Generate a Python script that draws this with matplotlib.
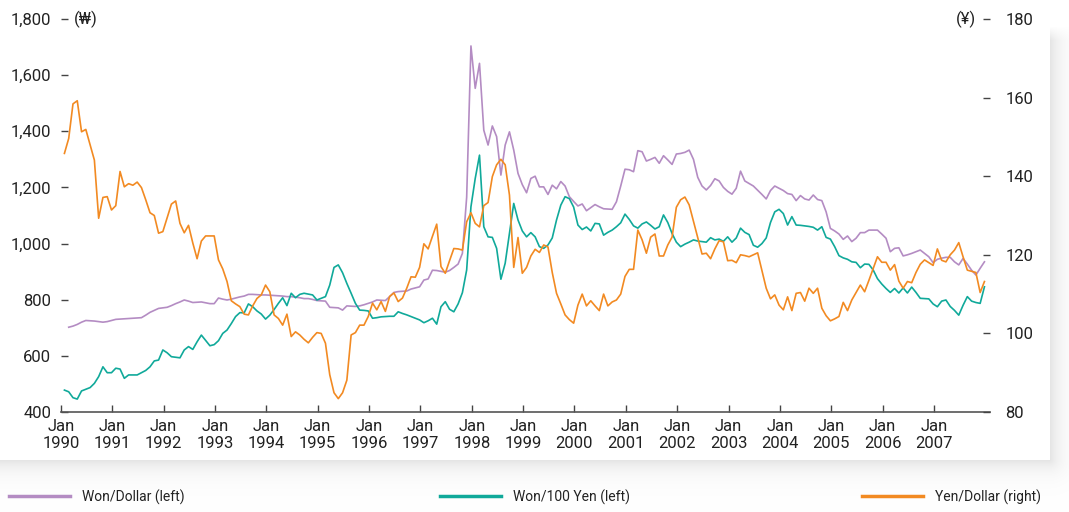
import numpy as np
import matplotlib
matplotlib.use("Agg")
import matplotlib.pyplot as plt

plt.rcParams['font.family'] = ['Roboto', 'DejaVu Sans']

# monthly data, Jan 1990 - Dec 2007
won_dollar = [
    np.nan, 702, 706, 712, 720, 726, 725, 724, 722, 720, 722, 726,      # 1990
    730, 731, 732, 733, 734, 735, 736, 745, 755, 762, 769, 771,         # 1991
    773, 779, 786, 792, 799, 795, 790, 791, 792, 789, 786, 786,         # 1992
    806, 802, 799, 802, 806, 810, 813, 819, 819, 818, 817, 817,         # 1993
    816, 815, 814, 813, 811, 811, 809, 807, 804, 804, 801, 797,         # 1994
    796, 795, 773, 772, 771, 763, 778, 777, 776, 778, 782, 787,         # 1995
    792, 799, 798, 797, 811, 826, 829, 830, 831, 838, 842, 846,         # 1996
    870, 874, 905, 904, 901, 898, 904, 915, 927, 965, 1165, 1704,       # 1997
    1553, 1642, 1404, 1351, 1419, 1381, 1244, 1351, 1398, 1333, 1250, 1210,  # 1998
    1181, 1232, 1240, 1202, 1202, 1175, 1208, 1195, 1221, 1205, 1167, 1150,  # 1999
    1134, 1141, 1117, 1128, 1139, 1131, 1124, 1123, 1122, 1149, 1205, 1265,  # 2000
    1263, 1256, 1331, 1327, 1294, 1300, 1307, 1286, 1313, 1298, 1282, 1319,  # 2001
    1321, 1325, 1333, 1300, 1236, 1205, 1191, 1207, 1231, 1223, 1200, 1186,  # 2002
    1176, 1197, 1258, 1223, 1214, 1205, 1190, 1175, 1159, 1189, 1205, 1197,  # 2003
    1189, 1178, 1175, 1153, 1171, 1159, 1155, 1173, 1157, 1153, 1113, 1054,  # 2004
    1045, 1034, 1015, 1027, 1007, 1019, 1039, 1039, 1048, 1048, 1048, 1034,  # 2005
    1019, 971, 983, 985, 956, 960, 965, 971, 977, 965, 953, 932,        # 2006
    944, 948, 951, 951, 935, 924, 947, 927, 905, 888, 912, 935,         # 2007
]

won_100yen = [
    478, 472, 451, 446, 475, 481, 487, 502, 526, 561, 540, 540,         # 1990
    556, 553, 520, 532, 532, 532, 540, 548, 561, 582, 585, 621,         # 1991
    611, 597, 595, 593, 621, 633, 623, 650, 674, 655, 636, 640,         # 1992
    654, 680, 692, 715, 740, 754, 753, 785, 775, 760, 749, 731,         # 1993
    745, 765, 787, 807, 779, 823, 807, 819, 823, 820, 817, 799,         # 1994
    805, 811, 852, 915, 924, 896, 858, 823, 787, 763, 762, 760,         # 1995
    734, 736, 739, 740, 741, 741, 757, 751, 746, 740, 734, 728,         # 1996
    718, 725, 734, 713, 775, 793, 766, 757, 785, 825, 906, 1131,        # 1997
    1232, 1315, 1060, 1024, 1022, 983, 873, 930, 1036, 1143, 1084, 1045,  # 1998
    1024, 1039, 1024, 989, 983, 995, 1020, 1084, 1137, 1167, 1160, 1130,  # 1999
    1066, 1050, 1059, 1045, 1072, 1070, 1030, 1040, 1048, 1060, 1074, 1105,  # 2000
    1086, 1063, 1055, 1070, 1077, 1065, 1052, 1060, 1102, 1075, 1036, 1005,  # 2001
    989, 998, 1005, 1013, 1009, 1007, 1005, 1021, 1013, 1016, 1008, 1024,    # 2002
    1005, 1020, 1055, 1040, 1032, 994, 987, 1000, 1020, 1075, 1113, 1122,    # 2003
    1107, 1066, 1096, 1066, 1065, 1063, 1061, 1058, 1048, 1060, 1022, 1016,  # 2004
    989, 957, 949, 944, 935, 933, 914, 927, 926, 906, 875, 856,         # 2005
    840, 826, 840, 824, 842, 824, 845, 826, 805, 804, 803, 785,         # 2006
    775, 795, 799, 776, 762, 745, 780, 811, 795, 790, 787, 846,         # 2007
]

yen_dollar = [
    145.8, 149.6, 158.4, 159.2, 151.3, 151.9, 148.0, 144.1, 129.3, 134.6, 134.8, 131.4,  # 1990
    132.5, 141.2, 137.3, 138.1, 137.7, 138.5, 137.1, 134.0, 130.7, 130.0, 125.5, 125.9,  # 1991
    129.4, 132.9, 133.7, 128.0, 125.6, 127.5, 123.0, 119.0, 123.5, 124.8, 124.8, 124.8,  # 1992
    118.7, 116.4, 113.2, 108.3, 107.5, 106.8, 104.9, 104.7, 107.0, 108.9, 109.8, 112.3,  # 1993
    110.6, 104.7, 103.8, 102.1, 104.9, 99.2, 100.4, 99.6, 98.5, 97.6, 99.0, 100.2,       # 1994
    100.0, 97.5, 89.5, 84.9, 83.4, 84.9, 88.1, 99.6, 100.2, 102.1, 102.1, 104.3,         # 1995
    107.7, 106.0, 108.1, 105.6, 109.4, 110.3, 108.1, 109.0, 111.5, 114.4, 114.3, 116.8,  # 1996
    122.8, 121.5, 124.7, 127.8, 117.0, 115.3, 118.5, 121.6, 121.5, 121.2, 128.4, 130.7,  # 1997
    128.0, 127.1, 132.5, 133.3, 139.9, 142.9, 144.3, 142.9, 135.2, 116.8, 124.4, 115.3,  # 1998
    116.8, 119.7, 121.4, 120.6, 122.5, 122.0, 115.5, 110.2, 107.5, 104.7, 103.5, 102.6,  # 1999
    107.2, 110.0, 107.0, 108.3, 107.0, 105.8, 110.0, 107.0, 108.0, 108.5, 110.0, 114.5,  # 2000
    116.3, 116.3, 126.3, 123.8, 120.4, 124.5, 125.3, 119.7, 119.7, 122.5, 124.5, 132.1,  # 2001
    134.0, 134.7, 132.7, 128.5, 124.3, 120.2, 120.4, 119.0, 121.5, 123.6, 123.3, 118.5,  # 2002
    118.6, 118.0, 120.0, 119.8, 119.5, 120.0, 120.5, 116.0, 111.5, 108.8, 109.8, 107.2,  # 2003
    106.0, 109.3, 105.8, 110.2, 110.4, 108.2, 111.5, 110.2, 111.5, 106.4, 104.5, 103.2,  # 2004
    103.7, 104.3, 107.9, 105.8, 108.5, 110.4, 112.3, 110.6, 113.5, 116.5, 119.5, 118.1,  # 2005
    118.1, 116.1, 117.5, 113.3, 111.5, 113.2, 112.9, 115.5, 117.6, 118.7, 118.0, 117.3,  # 2006
    121.5, 118.6, 118.2, 120.0, 121.2, 123.1, 119.5, 116.1, 115.8, 115.5, 110.4, 113.2,  # 2007
]

years = list(range(1990, 2008))
year_labels = [f"Jan\n{y}" for y in years]
left_ticks = list(range(400, 1801, 200))
right_ticks = list(range(80, 181, 20))

W, H = 1069, 512
t = 1990 + (np.arange(len(yen_dollar)) + 0.8) / 12

fig = plt.figure(figsize=(W / 100, H / 100), dpi=100)

# panel with soft shadow
bg = fig.add_axes([0, 0, 1, 1], zorder=-10)
yy, xx = np.mgrid[0:H, 0:W]
dx = np.clip(xx - 1049, 0, None)
dy = np.clip(yy - 459, 0, None)
d = np.hypot(dx, dy)
s = np.where(d > 0, 0.11 * np.exp(-d / 11), 0)
s = s * np.clip((yy - 26) / 14, 0, 1)
bg.imshow(np.dstack([1 - s] * 3), extent=(0, W, H, 0), aspect='auto')
bg.set_xlim(0, W)
bg.set_ylim(H, 0)
bg.axis('off')

ax = fig.add_axes([61 / W, 1 - 412 / H, 929 / W, 393 / H])
ax.patch.set_alpha(0)
ax2 = ax.twinx()

c_purple = '#b48cc3'
c_teal = '#10a99a'
c_orange = '#f28a22'

l1, = ax.plot(t, won_dollar, color=c_purple, lw=1.2, label='Won/Dollar (left)')
l2, = ax.plot(t, won_100yen, color=c_teal, lw=1.2, label='Won/100 Yen (left)')
l3, = ax2.plot(t, yen_dollar, color=c_orange, lw=1.2, label='Yen/Dollar (right)')

ax.set_xlim(1990, 1990 + 929 / 51.35)
ax.set_ylim(400, 1800)
ax2.set_ylim(80, 180)

ax.set_xticks(years)
ax.set_xticklabels(year_labels, fontsize=12, color='#222', linespacing=1.15)
ax.set_yticks(left_ticks)
ax.set_yticklabels([f"{v:,}" for v in left_ticks], fontsize=12, color='#222')
ax2.set_yticks(right_ticks)
ax2.set_yticklabels([str(v) for v in right_ticks], fontsize=12, color='#222')

ax.tick_params(axis='x', direction='in', length=5, width=1, color='#444', pad=5)
ax.tick_params(axis='y', direction='in', length=5, width=1, color='#444', pad=7)
ax2.tick_params(axis='y', direction='in', length=5, width=1, color='#444', pad=11)

for a in (ax, ax2):
    for side in ('left', 'right', 'top'):
        a.spines[side].set_visible(False)
ax.spines['bottom'].set_color('#555')
ax.spines['bottom'].set_linewidth(1.2)
ax2.spines['bottom'].set_visible(False)

fig.text(74 / W, 1 - 19 / H, '(₩)', fontsize=12, color='#222', va='center')
fig.text(976 / W, 1 - 19 / H, '(¥)', fontsize=12, color='#222', va='center', ha='right')

# legend entries spread across the bottom
for handle, x0 in ((l1, 9), (l2, 440), (l3, 862)):
    leg = fig.legend(handles=[handle], loc='center left',
                     bbox_to_anchor=(x0 / W, 1 - 497 / H), frameon=False,
                     fontsize=10, handlelength=4.4, handletextpad=0.85,
                     borderpad=0, borderaxespad=0)
    for ln in leg.get_lines():
        ln.set_linewidth(2.5)
    for txt in leg.get_texts():
        txt.set_color('#222')

fig.savefig('out.png', dpi=100)
